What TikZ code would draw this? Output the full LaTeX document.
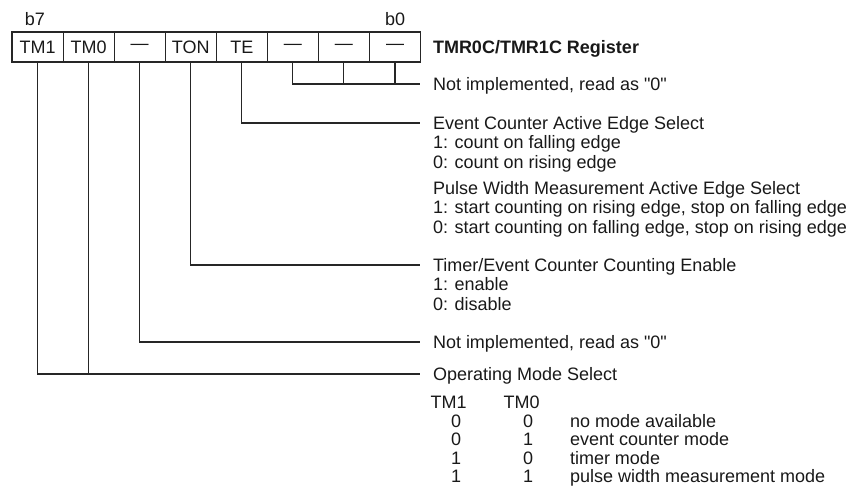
\documentclass[tikz,border=0pt]{standalone}
\usepackage{fontspec}
\newfontfamily\regfont{Liberation Sans}
\usepackage{tikz}
\usetikzlibrary{positioning}

\begin{document}
\begin{tikzpicture}[
    x=0.75pt, y=-0.75pt,
    node distance=0pt,
    every node/.style={font=\regfont\fontsize{13.5pt}{14.6pt}\selectfont, text=black!90},
    bit/.style={rectangle, draw=black!85, line width=0.8pt, minimum width=38.3pt, minimum height=22.5pt, inner sep=0pt, outer sep=0pt},
    head/.style={anchor=west, inner xsep=9.75pt, inner ysep=0pt, outer sep=0pt, text height=12pt, text depth=2.6pt},
    items/.style={anchor=north west, align=left, inner xsep=9.75pt, inner ysep=0pt, outer sep=0pt},
    tab/.style={inner sep=0pt, outer sep=0pt, text height=12pt, text depth=2.6pt},
    wire/.style={draw=black!85, line width=0.8pt}
]
\useasboundingbox (0,0) rectangle (848,486);
% Register bits
\node[bit] (tm1) at (37.55,47) {TM1};
\node[bit, right=of tm1] (tm0) {TM0};
\node[bit, right=of tm0] (nc5) {—};
\node[bit, right=of nc5] (ton) {TON};
\node[bit, right=of ton] (te) {TE};
\node[bit, right=of te] (nc2) {—};
\node[bit, right=of nc2] (nc1) {—};
\node[bit, right=of nc1] (nc0) {—};
\node[above=1pt of tm1, xshift=-2pt] (b7) {b7};
\node[above=1pt of nc0] (b0) {b0};
\node[head] (reg) at (420,47) {\bfseries TMR0C/TMR1C Register};
% Bit descriptions
\node[head] (ni0) at (420,84) {Not implemented, read as "0"};
\node[head] (evt) at (420,123) {Event Counter Active Edge Select};
\node[items, below=2.1pt of evt.south west, anchor=north west] (evtx) {1: count on falling edge\\0: count on rising edge};
\node[head] (pwm) at (420,188) {Pulse Width Measurement Active Edge Select};
\node[items, below=2.1pt of pwm.south west, anchor=north west] (pwmx) {1: start counting on rising edge, stop on falling edge\\0: start counting on falling edge, stop on rising edge};
\node[head] (ten) at (420,265) {Timer/Event Counter Counting Enable};
\node[items, below=2.1pt of ten.south west, anchor=north west] (tenx) {1: enable\\0: disable};
\node[head] (ni5) at (420,342) {Not implemented, read as "0"};
\node[head] (oms) at (420,374) {Operating Mode Select};
% Mode table
\node[tab] (h1) at (448.5,402) {TM1};
\node[tab] (h0) at (521.5,402) {TM0};
\node[tab] (r1a) at (456,421) {0};
\node[tab] (r1b) at (528,421) {0};
\node[tab, anchor=west] (r1) at (570,421) {no mode available};
\node[tab] (r2a) at (456,439.5) {0};
\node[tab] (r2b) at (528,439.5) {1};
\node[tab, anchor=west] (r2) at (570,439.5) {event counter mode};
\node[tab] (r3a) at (456,458) {1};
\node[tab] (r3b) at (528,458) {0};
\node[tab, anchor=west] (r3) at (570,458) {timer mode};
\node[tab] (r4a) at (456,476.5) {1};
\node[tab] (r4b) at (528,476.5) {1};
\node[tab, anchor=west] (r4) at (570,476.5) {pulse width measurement mode};
% Leader lines
\draw[wire] (nc2.south) |- (ni0.west);
\draw[wire] (nc1.south) -- (nc1.south |- ni0.west);
\draw[wire] (nc0.south) -- (nc0.south |- ni0.west);
\draw[wire] (te.south) |- (evt.west);
\draw[wire] (ton.south) |- (ten.west);
\draw[wire] (nc5.south) |- (ni5.west);
\draw[wire] (tm1.south) |- (oms.west);
\draw[wire] (tm0.south) -- (tm0.south |- oms.west);
\end{tikzpicture}
\end{document}
